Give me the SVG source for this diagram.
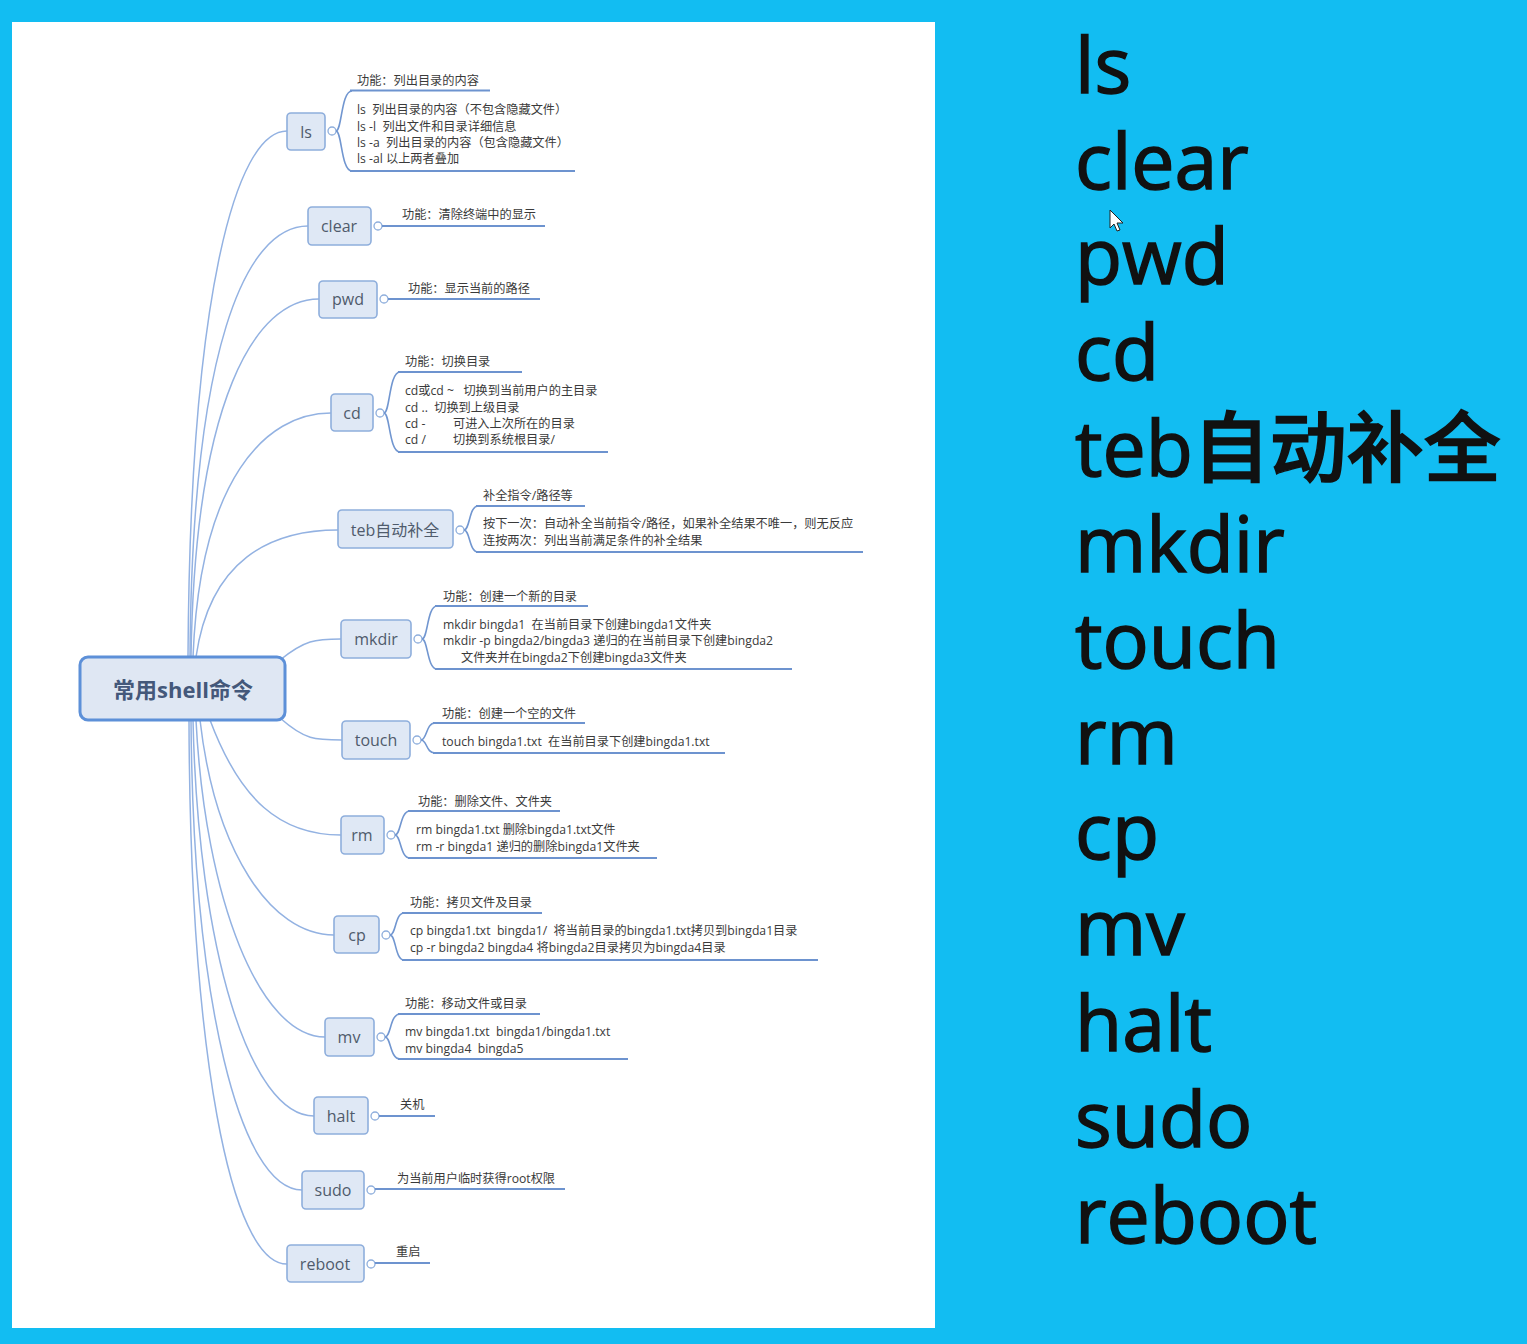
<svg xmlns="http://www.w3.org/2000/svg" width="1527" height="1344" viewBox="0 0 1527 1344">
<style>
.node rect{fill:#dfe8f5;stroke:#8eaedc;stroke-width:1.6}
.lbl{font-family:"Open Sans","Noto Sans CJK SC",sans-serif;font-size:16px;fill:#4f5b6c;text-anchor:middle;dominant-baseline:central}
.tog{fill:#fff;stroke:#8eaedc;stroke-width:1.3}
.conn path{fill:none;stroke:#93b2e2;stroke-width:1.5}
.br{fill:none;stroke:#7196d0;stroke-width:1.6}
.ul{stroke:#6d93cf;stroke-width:2}
.d{font-family:"Open Sans","Noto Sans CJK SC",sans-serif;font-size:12.2px;fill:#3a3a3a;white-space:pre;dominant-baseline:central;text-anchor:start}
.big{font-family:"Open Sans","Noto Sans CJK SC",sans-serif;font-size:77px;font-weight:500;fill:#111;stroke:#111;stroke-width:1.5}
</style>
<rect x="0" y="0" width="1527" height="1344" fill="#12bdf2"/>
<rect x="12" y="22" width="923" height="1306" fill="#fff"/>

<g id="connectors" class="conn">
<path d="M188,657 C190,300 235,131 287,131"/>
<path d="M190,657 C192,350 245,226 308,226"/>
<path d="M191,657 C195,400 255,299 319,299"/>
<path d="M193,657 C200,480 265,413 331,413"/>
<path d="M196,657 C210,560 270,530 338,530"/>
<path d="M280,660 C305,640 315,639 341,639"/>
<path d="M280,718 C305,740 315,740 342,740"/>
<path d="M210,720 C240,800 280,835 341,835"/>
<path d="M200,720 C215,850 270,935 334,935"/>
<path d="M196,720 C205,900 260,1037 325,1037"/>
<path d="M193,720 C198,950 250,1116 314,1116"/>
<path d="M191,720 C193,1000 240,1190 302,1190"/>
<path d="M189,720 C190,1050 230,1264 287,1264"/>
</g>

<g id="root">
<rect x="80" y="657" width="205" height="63" rx="8" fill="#dfe7f3" stroke="#5d90d8" stroke-width="3"/>
<text x="183" y="689" font-family="Open Sans,Noto Sans CJK SC,sans-serif" font-size="22" font-weight="bold" fill="#44587a" text-anchor="middle" dominant-baseline="central">常用shell命令</text>
</g>

<g id="n-ls" class="node">
<rect x="287" y="113" width="38" height="37" rx="4"/><text class="lbl" x="306" y="132">ls</text>
<circle class="tog" cx="332" cy="131" r="4"/>
<path class="br" d="M336,131 C342,131 341,91 352,91 M336,131 C342,131 341,171 352,171"/>
<line class="ul" x1="350" y1="90.5" x2="490" y2="90.5"/>
<line class="ul" x1="350" y1="171" x2="575" y2="171"/>
<text class="d" x="357" y="80">功能：列出目录的内容</text>
<text class="d" x="357" y="109">ls  列出目录的内容（不包含隐藏文件）</text>
<text class="d" x="357" y="126">ls -l  列出文件和目录详细信息</text>
<text class="d" x="357" y="142">ls -a  列出目录的内容（包含隐藏文件）</text>
<text class="d" x="357" y="158">ls -al 以上两者叠加</text>
</g>

<g id="n-clear" class="node">
<rect x="308" y="207" width="63" height="38" rx="4"/><text class="lbl" x="339" y="226">clear</text>
<circle class="tog" cx="378" cy="226" r="4"/>
<line class="ul" x1="382" y1="226" x2="545" y2="226"/>
<text class="d" x="402" y="214">功能：清除终端中的显示</text>
</g>

<g id="n-pwd" class="node">
<rect x="319" y="281" width="58" height="37" rx="4"/><text class="lbl" x="348" y="299">pwd</text>
<circle class="tog" cx="384" cy="299" r="4"/>
<line class="ul" x1="388" y1="299" x2="540" y2="299"/>
<text class="d" x="408" y="288">功能：显示当前的路径</text>
</g>

<g id="n-cd" class="node">
<rect x="331" y="394" width="42" height="37" rx="4"/><text class="lbl" x="352" y="413">cd</text>
<circle class="tog" cx="380" cy="413" r="4"/>
<path class="br" d="M384,413 C390,413 389,372 400,372 M384,413 C390,413 389,452 400,452"/>
<line class="ul" x1="398" y1="372" x2="522" y2="372"/>
<line class="ul" x1="398" y1="452" x2="608" y2="452"/>
<text class="d" x="405" y="361">功能：切换目录</text>
<text class="d" x="405" y="390">cd或cd ~   切换到当前用户的主目录</text>
<text class="d" x="405" y="407">cd ..  切换到上级目录</text>
<text class="d" x="405" y="423">cd -</text><text class="d" x="453" y="423">可进入上次所在的目录</text>
<text class="d" x="405" y="439">cd /</text><text class="d" x="453" y="439">切换到系统根目录/</text>
</g>

<g id="n-teb" class="node">
<rect x="338" y="510" width="115" height="38" rx="4"/><text class="lbl" x="395" y="530">teb自动补全</text>
<circle class="tog" cx="460" cy="530" r="4"/>
<path class="br" d="M464,530 C470,530 469,506 478,506 M464,530 C470,530 469,552 478,552"/>
<line class="ul" x1="476" y1="506" x2="585" y2="506"/>
<line class="ul" x1="476" y1="552" x2="863" y2="552"/>
<text class="d" x="483" y="495">补全指令/路径等</text>
<text class="d" x="483" y="523">按下一次：自动补全当前指令/路径，如果补全结果不唯一，则无反应</text>
<text class="d" x="483" y="540">连按两次：列出当前满足条件的补全结果</text>
</g>

<g id="n-mkdir" class="node">
<rect x="341" y="620" width="70" height="38" rx="4"/><text class="lbl" x="376" y="639">mkdir</text>
<circle class="tog" cx="418" cy="639" r="4"/>
<path class="br" d="M422,639 C428,639 427,606 437,606 M422,639 C428,639 427,669 437,669"/>
<line class="ul" x1="435" y1="606" x2="588" y2="606"/>
<line class="ul" x1="435" y1="669" x2="792" y2="669"/>
<text class="d" x="443" y="596">功能：创建一个新的目录</text>
<text class="d" x="443" y="624">mkdir bingda1  在当前目录下创建bingda1文件夹</text>
<text class="d" x="443" y="640">mkdir -p bingda2/bingda3 递归的在当前目录下创建bingda2</text>
<text class="d" x="461" y="657">文件夹并在bingda2下创建bingda3文件夹</text>
</g>

<g id="n-touch" class="node">
<rect x="342" y="721" width="68" height="38" rx="4"/><text class="lbl" x="376" y="740">touch</text>
<circle class="tog" cx="417" cy="740" r="4"/>
<path class="br" d="M421,740 C427,740 426,723 435,723 M421,740 C427,740 426,753 435,753"/>
<line class="ul" x1="433" y1="723" x2="585" y2="723"/>
<line class="ul" x1="433" y1="753" x2="725" y2="753"/>
<text class="d" x="442" y="713">功能：创建一个空的文件</text>
<text class="d" x="442" y="741">touch bingda1.txt  在当前目录下创建bingda1.txt</text>
</g>

<g id="n-rm" class="node">
<rect x="341" y="816" width="43" height="38" rx="4"/><text class="lbl" x="362" y="835">rm</text>
<circle class="tog" cx="391" cy="835" r="4"/>
<path class="br" d="M395,835 C401,835 400,811 410,811 M395,835 C401,835 400,858 410,858"/>
<line class="ul" x1="408" y1="811" x2="560" y2="811"/>
<line class="ul" x1="408" y1="858" x2="657" y2="858"/>
<text class="d" x="418" y="801">功能：删除文件、文件夹</text>
<text class="d" x="416" y="829">rm bingda1.txt 删除bingda1.txt文件</text>
<text class="d" x="416" y="846">rm -r bingda1 递归的删除bingda1文件夹</text>
</g>

<g id="n-cp" class="node">
<rect x="334" y="916" width="45" height="37" rx="4"/><text class="lbl" x="357" y="935">cp</text>
<circle class="tog" cx="386" cy="935" r="4"/>
<path class="br" d="M390,935 C396,935 395,913 404,913 M390,935 C396,935 395,960 404,960"/>
<line class="ul" x1="402" y1="913" x2="542" y2="913"/>
<line class="ul" x1="402" y1="960" x2="818" y2="960"/>
<text class="d" x="410" y="902">功能：拷贝文件及目录</text>
<text class="d" x="410" y="930">cp bingda1.txt  bingda1/  将当前目录的bingda1.txt拷贝到bingda1目录</text>
<text class="d" x="410" y="947">cp -r bingda2 bingda4 将bingda2目录拷贝为bingda4目录</text>
</g>

<g id="n-mv" class="node">
<rect x="325" y="1018" width="49" height="38" rx="4"/><text class="lbl" x="349" y="1037">mv</text>
<circle class="tog" cx="381" cy="1037" r="4"/>
<path class="br" d="M385,1037 C391,1037 390,1014 400,1014 M385,1037 C391,1037 390,1059 400,1059"/>
<line class="ul" x1="398" y1="1014" x2="540" y2="1014"/>
<line class="ul" x1="398" y1="1059" x2="628" y2="1059"/>
<text class="d" x="405" y="1003">功能：移动文件或目录</text>
<text class="d" x="405" y="1031">mv bingda1.txt  bingda1/bingda1.txt</text>
<text class="d" x="405" y="1048">mv bingda4  bingda5</text>
</g>

<g id="n-halt" class="node">
<rect x="314" y="1097" width="54" height="37" rx="4"/><text class="lbl" x="341" y="1116">halt</text>
<circle class="tog" cx="375" cy="1116" r="4"/>
<line class="ul" x1="379" y1="1116" x2="435" y2="1116"/>
<text class="d" x="400" y="1104">关机</text>
</g>

<g id="n-sudo" class="node">
<rect x="302" y="1171" width="62" height="38" rx="4"/><text class="lbl" x="333" y="1190">sudo</text>
<circle class="tog" cx="371" cy="1190" r="4"/>
<line class="ul" x1="375" y1="1189" x2="565" y2="1189"/>
<text class="d" x="397" y="1178">为当前用户临时获得root权限</text>
</g>

<g id="n-reboot" class="node">
<rect x="287" y="1245" width="77" height="37" rx="4"/><text class="lbl" x="325" y="1264">reboot</text>
<circle class="tog" cx="371" cy="1264" r="4"/>
<line class="ul" x1="375" y1="1263" x2="430" y2="1263"/>
<text class="d" x="396" y="1251">重启</text>
</g>

<g id="command-list">
<text class="big" x="1075" y="93">ls</text>
<text class="big" x="1075" y="189">clear</text>
<text class="big" x="1075" y="284">pwd</text>
<text class="big" x="1075" y="380">cd</text>
<text class="big" x="1075" y="476">teb自动补全</text>
<text class="big" x="1075" y="572">mkdir</text>
<text class="big" x="1075" y="668">touch</text>
<text class="big" x="1075" y="764">rm</text>
<text class="big" x="1075" y="859">cp</text>
<text class="big" x="1075" y="955">mv</text>
<text class="big" x="1075" y="1051">halt</text>
<text class="big" x="1075" y="1147">sudo</text>
<text class="big" x="1075" y="1243">reboot</text>
</g>
<polygon points="1110,210 1110,228 1114,224 1117,231 1120,230 1117,223 1123,223" fill="#fff" stroke="#222" stroke-width="1"/>
</svg>
